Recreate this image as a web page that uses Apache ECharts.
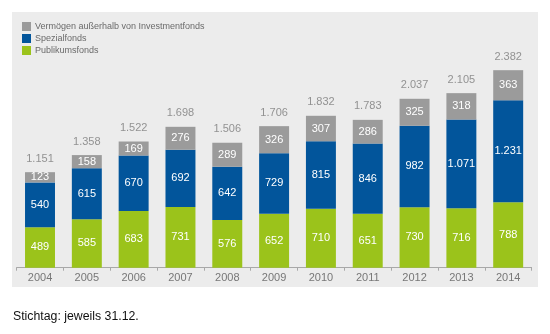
<!DOCTYPE html>
<html>
<head>
<meta charset="utf-8">
<script src="https://cdn.jsdelivr.net/npm/echarts@6/dist/echarts.min.js"></script>
<style>
  html, body { margin: 0; padding: 0; background: #ffffff; }
  #chart { width: 550px; height: 334px; }
</style>
</head>
<body>
<div id="chart"></div>
<script>
// Fondsvermögen nach Anlageform, in Mrd. Euro
const years = ['2004', '2005', '2006', '2007', '2008', '2009', '2010', '2011', '2012', '2013', '2014'];
const publikumsfonds = [489, 585, 683, 731, 576, 652, 710, 651, 730, 716, 788];
const spezialfonds = [540, 615, 670, 692, 642, 729, 815, 846, 982, 1071, 1231];
const ausserhalb = [123, 158, 169, 276, 289, 326, 307, 286, 325, 318, 363];
const totals = [1151, 1358, 1522, 1698, 1506, 1706, 1832, 1783, 2037, 2105, 2382];

const seriesNames = ['Vermögen außerhalb von Investmentfonds', 'Spezialfonds', 'Publikumsfonds'];
const colors = { grey: '#9b9b9b', blue: '#02559b', green: '#9bc31b' };

// Deutsche Tausendertrennung: 1231 -> "1.231"
function fmt(v) {
  return String(v).replace(/\B(?=(\d{3})+(?!\d))/g, '.');
}

const font = 'Liberation Sans, Arial, sans-serif';

const inside = {
  show: true,
  position: 'inside',
  color: '#ffffff',
  fontSize: 11,
  fontFamily: font,
  formatter: p => fmt(p.value)
};

const chart = echarts.init(document.getElementById('chart'), null, { renderer: 'canvas' });

chart.setOption({
  animation: false,
  backgroundColor: '#ffffff',
  textStyle: { fontFamily: font },
  graphic: [
    {
      type: 'rect',
      z: -10,
      shape: { x: 12, y: 12, width: 526, height: 275 },
      style: { fill: '#ececec' }
    },
    {
      type: 'text',
      left: 13,
      top: 311,
      style: { text: 'Stichtag: jeweils 31.12.', fill: '#111111', font: '12.3px ' + font }
    }
  ],
  legend: {
    orient: 'vertical',
    left: 17,
    top: 17,
    itemWidth: 9,
    itemHeight: 9,
    itemGap: 3,
    icon: 'rect',
    data: seriesNames,
    textStyle: { color: '#6a6a6a', fontSize: 9, fontFamily: font, padding: [0, 0, 0, -1] }
  },
  grid: { left: 16.6, right: 18.4, top: 60.4, bottom: 66.3 },
  xAxis: {
    type: 'category',
    data: years,
    boundaryGap: true,
    axisLine: { lineStyle: { color: '#a8a8a8', width: 1 } },
    axisTick: { show: true, length: 3, lineStyle: { color: '#a8a8a8' } },
    axisLabel: { color: '#777777', fontSize: 11, fontFamily: font, margin: 5 }
  },
  yAxis: {
    type: 'value',
    min: 0,
    max: 2500,
    show: false,
    splitLine: { show: false }
  },
  series: [
    {
      name: 'Publikumsfonds',
      type: 'bar',
      stack: 'total',
      barWidth: '64%',
      data: publikumsfonds,
      itemStyle: { color: colors.green },
      label: inside
    },
    {
      name: 'Spezialfonds',
      type: 'bar',
      stack: 'total',
      barWidth: '64%',
      data: spezialfonds,
      itemStyle: { color: colors.blue },
      label: inside
    },
    {
      name: 'Vermögen außerhalb von Investmentfonds',
      type: 'bar',
      stack: 'total',
      barWidth: '64%',
      data: ausserhalb,
      itemStyle: { color: colors.grey },
      label: inside
    },
    {
      name: 'Gesamt',
      type: 'scatter',
      data: totals,
      symbolSize: 0,
      silent: true,
      label: {
        show: true,
        position: 'top',
        distance: 8,
        color: '#7a7a7a',
        fontSize: 11,
        fontFamily: font,
        formatter: p => fmt(p.value)
      }
    }
  ]
});
</script>
</body>
</html>
